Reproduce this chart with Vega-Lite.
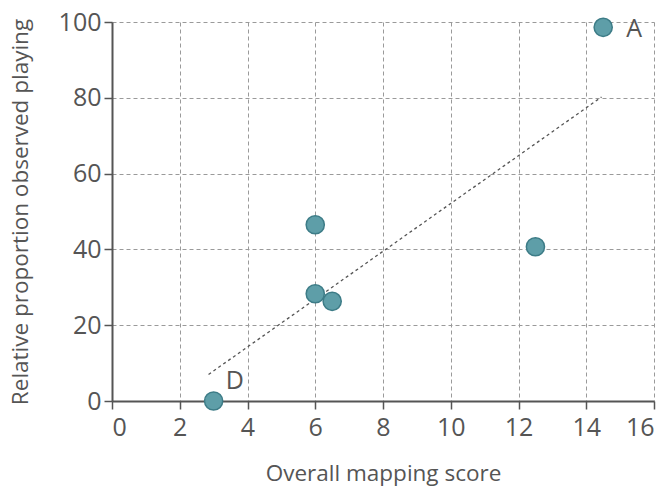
{
  "$schema": "https://vega.github.io/schema/vega-lite/v6.json",
  "width": 542,
  "height": 379,
  "autosize": {"type": "none"},
  "padding": {"left": 112, "top": 22, "right": 8, "bottom": 85},
  "background": "white",
  "config": {
    "view": {"stroke": null},
    "font": "Open Sans",
    "axis": {
      "labelFont": "Open Sans",
      "titleFont": "Open Sans",
      "labelColor": "#555555",
      "titleColor": "#555555",
      "labelFontSize": 25,
      "titleFontSize": 22.5,
      "titleFontWeight": "normal",
      "domainColor": "#555555",
      "domainWidth": 2,
      "tickColor": "#555555",
      "tickWidth": 1.5,
      "tickSize": 8,
      "gridColor": "#9a9a9a",
      "gridDash": [4, 3],
      "gridWidth": 1
    }
  },
  "datasets": {
    "points": [
      {"score": 14.5, "playing": 98.6, "label": "A"},
      {"score": 6.0, "playing": 46.5, "label": ""},
      {"score": 6.0, "playing": 28.3, "label": ""},
      {"score": 6.5, "playing": 26.3, "label": ""},
      {"score": 12.5, "playing": 40.7, "label": ""},
      {"score": 3.0, "playing": 0.0, "label": "D"}
    ],
    "trend": [
      {"score": 2.85, "playing": 7.0},
      {"score": 14.45, "playing": 80.2}
    ]
  },
  "layer": [
    {
      "data": {"name": "trend"},
      "mark": {"type": "line", "color": "#555555", "strokeDash": [3, 3], "strokeWidth": 1.3},
      "encoding": {
        "x": {
          "field": "score", "type": "quantitative",
          "scale": {"domain": [0, 16], "nice": false, "zero": false},
          "axis": {"title": "Overall mapping score", "values": [0, 2, 4, 6, 8, 10, 12, 14, 16], "labelPadding": 6, "titlePadding": 22, "grid": true}
        },
        "y": {
          "field": "playing", "type": "quantitative",
          "scale": {"domain": [0, 100], "nice": false},
          "axis": {"title": "Relative proportion observed playing", "values": [0, 20, 40, 60, 80, 100], "labelPadding": 3, "titleX": -92, "titleBaseline": "middle", "grid": true}
        }
      }
    },
    {
      "data": {"name": "points"},
      "mark": {"type": "circle", "size": 330, "opacity": 1, "fill": "#5e9ea8", "stroke": "#3d7c87", "strokeWidth": 1.5, "clip": false},
      "encoding": {
        "x": {"field": "score", "type": "quantitative"},
        "y": {"field": "playing", "type": "quantitative"}
      }
    },
    {
      "data": {"name": "points"},
      "transform": [{"filter": "datum.label == 'A'"}],
      "mark": {"type": "text", "align": "left", "baseline": "middle", "dx": 23, "dy": 2, "fontSize": 25, "color": "#555555", "font": "Open Sans"},
      "encoding": {
        "x": {"field": "score", "type": "quantitative"},
        "y": {"field": "playing", "type": "quantitative"},
        "text": {"field": "label"}
      }
    },
    {
      "data": {"name": "points"},
      "transform": [{"filter": "datum.label == 'D'"}],
      "mark": {"type": "text", "align": "left", "baseline": "middle", "dx": 12, "dy": -20, "fontSize": 25, "color": "#555555", "font": "Open Sans"},
      "encoding": {
        "x": {"field": "score", "type": "quantitative"},
        "y": {"field": "playing", "type": "quantitative"},
        "text": {"field": "label"}
      }
    }
  ]
}
